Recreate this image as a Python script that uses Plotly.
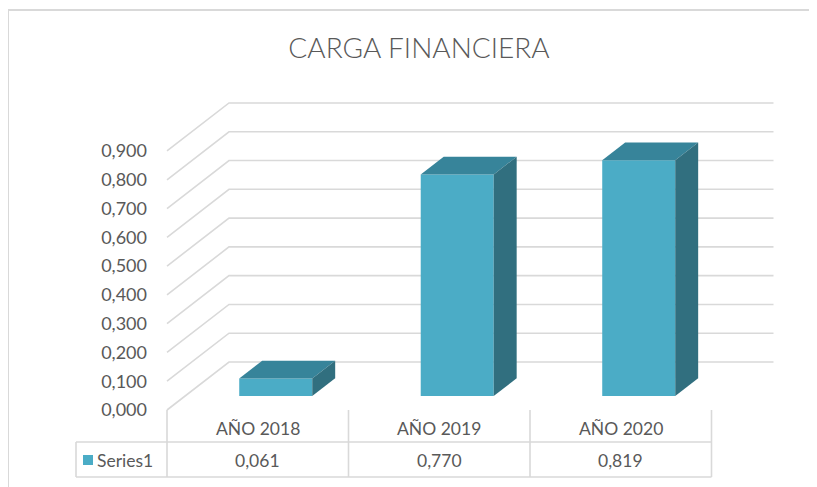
import plotly.graph_objects as go

# ---------------- data ----------------
categories = ["AÑO 2018", "AÑO 2019", "AÑO 2020"]
values = [0.061, 0.770, 0.819]
value_labels = ["0,061", "0,770", "0,819"]
y_ticks = [0.0, 0.1, 0.2, 0.3, 0.4, 0.5, 0.6, 0.7, 0.8, 0.9]
series_name = "Series1"
chart_title = "CARGA FINANCIERA"

# ---------------- geometry / style ----------------
W, H = 817, 487
OFF = 8                  # page offset compensation (body margin)
PX_CAT = 181.5           # pixels per category
PX_VAL = 287.8           # pixels per value unit
X0_PX = 167.0 - OFF      # pixel of category boundary x=-0.5 (front plane)
Y0_PX = 410.0 - OFF      # pixel of value 0 (front plane)
DEPTH_X = 62.0 / PX_CAT  # back wall offset in category units
DEPTH_Y = 48.0 / PX_VAL  # back wall offset in value units
BAR_F = 0.29             # bar front face depth fraction
BAR_B = 0.66             # bar back face depth fraction
BAR_W = 73.0 / PX_CAT
PL, PR, PT, PB = 74 - OFF, 778 - OFF, 100 - OFF, 480 - OFF   # plot area in pixels

FRONT = "#4BACC6"
TOP = "#37849A"
SIDE = "#316F7F"
GRID = "#D9D9D9"
TXT = "#595959"
FONT = "Lato, 'Open Sans', sans-serif"


def px_to_x(px):
    return (px - OFF - X0_PX) / PX_CAT - 0.5


def py_to_v(py):
    return (Y0_PX - (py - OFF)) / PX_VAL


n = len(categories)
x_left = -0.5
x_right = n - 0.5

fig = go.Figure()

# back wall gridlines + left diagonals (base subplot, beneath bars)
gx, gy = [], []
for v in y_ticks:
    gx += [x_left, x_left + DEPTH_X, x_right + DEPTH_X, None]
    gy += [v, v + DEPTH_Y, v + DEPTH_Y, None]
fig.add_trace(go.Scatter(x=gx, y=gy, mode="lines", line=dict(color=GRID, width=1.6),
                         hoverinfo="skip", showlegend=False))

# data table lines
row1 = py_to_v(442)
row2 = py_to_v(477)
leg_left = px_to_x(76)
tx, ty = [], []
for i in range(n + 1):
    xb = x_left + i
    tx += [xb, xb, None]
    ty += [0, row2, None]
tx += [leg_left, x_right, None, leg_left, x_right, None, leg_left, leg_left, None]
ty += [row1, row1, None, row2, row2, None, row1, row2, None]
fig.add_trace(go.Scatter(x=tx, y=ty, mode="lines", line=dict(color=GRID, width=1.6),
                         hoverinfo="skip", showlegend=False))

# bars: front faces (overlay subplot, above gridlines)
xf = [i + BAR_F * DEPTH_X for i in range(n)]
base = BAR_F * DEPTH_Y
fig.add_trace(go.Bar(x=xf, y=values, base=[base] * n, width=BAR_W,
                     marker=dict(color=FRONT, line=dict(width=0)),
                     name=series_name, showlegend=False, xaxis="x2", yaxis="y2"))

# bars: top and side faces
ddx = (BAR_B - BAR_F) * DEPTH_X
ddy = (BAR_B - BAR_F) * DEPTH_Y
for i, v in enumerate(values):
    xl = xf[i] - BAR_W / 2
    xr = xf[i] + BAR_W / 2
    yt = base + v
    fig.add_trace(go.Scatter(
        x=[xl, xr, xr + ddx, xl + ddx, xl], y=[yt, yt, yt + ddy, yt + ddy, yt],
        mode="lines", fill="toself", fillcolor=TOP, line=dict(width=0, color=TOP),
        hoverinfo="skip", showlegend=False, xaxis="x2", yaxis="y2"))
    fig.add_trace(go.Scatter(
        x=[xr, xr, xr + ddx, xr + ddx, xr], y=[base, yt, yt + ddy, base + ddy, base],
        mode="lines", fill="toself", fillcolor=SIDE, line=dict(width=0, color=SIDE),
        hoverinfo="skip", showlegend=False, xaxis="x2", yaxis="y2"))

# legend key square in table
fig.add_trace(go.Scatter(x=[px_to_x(88)], y=[py_to_v(460)], mode="markers",
                         marker=dict(symbol="square", size=10, color=FRONT),
                         hoverinfo="skip", showlegend=False))

annotations = []
for i, c in enumerate(categories):
    annotations.append(dict(x=i, y=py_to_v(428), xref="x", yref="y", text=c,
                            showarrow=False, font=dict(family=FONT, size=17.5, color=TXT),
                            xanchor="center", yanchor="middle"))
    annotations.append(dict(x=i, y=py_to_v(460), xref="x", yref="y", text=value_labels[i],
                            showarrow=False, font=dict(family=FONT, size=17.5, color=TXT),
                            xanchor="center", yanchor="middle"))
annotations.append(dict(x=px_to_x(95), y=py_to_v(460), xref="x", yref="y", text=series_name,
                        showarrow=False, font=dict(family=FONT, size=17.5, color=TXT),
                        xanchor="left", yanchor="middle"))

pw = PR - PL
ph = PB - PT


def px_paper(px):
    return (px - OFF - PL) / pw


def py_paper(py):
    return (PB - (py - OFF)) / ph


xr_range = [px_to_x(PL + OFF), px_to_x(PR + OFF)]
yr_range = [py_to_v(PB + OFF), py_to_v(PT + OFF)]

fig.update_layout(
    width=W, height=H,
    margin=dict(l=PL, r=W - PR, t=PT, b=H - PB, pad=0),
    paper_bgcolor="white", plot_bgcolor="white",
    separators=",.",
    title=dict(text=chart_title, x=(419 - OFF) / W, y=1 - (48 - OFF) / H,
               xanchor="center", yanchor="middle",
               xref="container", yref="container",
               font=dict(family=FONT, size=28, color=TXT, weight=300)),
    xaxis=dict(range=xr_range, visible=False, fixedrange=True),
    yaxis=dict(range=yr_range, anchor="free", position=px_paper(167),
               tickvals=y_ticks, tickformat=".3f", showgrid=False, zeroline=False,
               showline=False, ticks="", ticklabelstandoff=20,
               tickfont=dict(family=FONT, size=18, color=TXT), fixedrange=True),
    xaxis2=dict(range=xr_range, visible=False, overlaying="x", fixedrange=True),
    yaxis2=dict(range=yr_range, visible=False, overlaying="y", anchor="x2", fixedrange=True),
    annotations=annotations,
    shapes=[dict(type="rect", xref="paper", yref="paper",
                 x0=px_paper(8), x1=px_paper(W + 30), y0=py_paper(10), y1=py_paper(H + 30),
                 line=dict(color=GRID, width=2), fillcolor="rgba(0,0,0,0)", layer="below")],
    showlegend=False,
)

fig.write_html("out.html")
